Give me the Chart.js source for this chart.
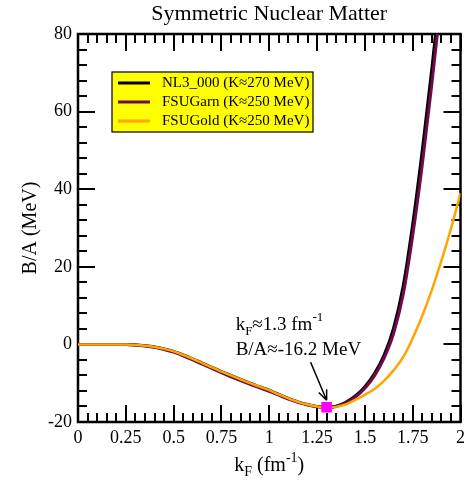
<!DOCTYPE html>
<html>
<head>
<meta charset="utf-8">
<script src="https://cdn.jsdelivr.net/npm/chart.js@4.4.0/dist/chart.umd.min.js"></script>
<style>
html, body { margin: 0; padding: 0; background: #fff; }
</style>
</head>
<body>
<canvas id="eosChart" width="470" height="481"></canvas>
<script>
// k_F grid (fm^-1)
var kF = [0, 0.05, 0.1, 0.15, 0.2, 0.25, 0.3, 0.35, 0.4, 0.45, 0.5, 0.55, 0.6, 0.65, 0.7, 0.75, 0.8, 0.85, 0.9, 0.95,
          1.0, 1.05, 1.1, 1.15, 1.2, 1.25, 1.3, 1.35, 1.4, 1.45, 1.5, 1.55, 1.6, 1.65, 1.7, 1.75, 1.8, 1.85, 1.9, 1.95, 2.0];

// B/A (MeV)
var nl3 = [0, 0, 0, 0, 0, -0.05, -0.15, -0.35, -0.65, -1.15, -1.8, -2.7, -3.7, -4.8, -5.9, -7.0, -8.0, -9.0, -10.0, -10.9,
           -11.8, -12.9, -13.9, -14.8, -15.5, -16.0, -16.2, -15.9, -14.9, -13.3, -10.9, -7.5, -2.8, 4.2, 15.0, 31.0, 50.0, 71.0, 94.0];
var fsuGarn = [0, 0, 0, 0, 0, -0.05, -0.17, -0.4, -0.75, -1.3, -2.0, -2.95, -4.0, -5.1, -6.2, -7.3, -8.35, -9.35, -10.3, -11.2,
               -12.1, -13.1, -14.1, -14.95, -15.6, -16.05, -16.25, -16.0, -15.1, -13.6, -11.3, -8.1, -3.6, 2.8, 12.8, 28.0, 46.2, 67.0, 89.5];
var fsuGold = [0, 0, 0, 0, 0, -0.05, -0.15, -0.35, -0.65, -1.15, -1.8, -2.7, -3.7, -4.8, -5.9, -7.0, -8.0, -9.0, -10.0, -10.9,
               -11.8, -12.9, -13.9, -14.8, -15.5, -16.0, -16.25, -16.1, -15.5, -14.3, -13.0, -11.5, -9.4, -6.7, -3.3, 1.6, 7.4, 14.0, 21.5, 29.8, 39.0];

var seriesLabels = ['NL3_000 (K\u2248270 MeV)', 'FSUGarn (K\u2248250 MeV)', 'FSUGold (K\u2248250 MeV)'];
var seriesColors = ['#000000', '#6e0b4a', '#ffa500'];

// saturation point
var satKF = [1.3];
var satBA = [-16.2];

var xTickValues = [0, 0.25, 0.5, 0.75, 1, 1.25, 1.5, 1.75, 2];
var xTickLabels = ['0', '0.25', '0.5', '0.75', '1', '1.25', '1.5', '1.75', '2'];
var yTickValues = [-20, 0, 20, 40, 60, 80];
var yTickLabels = ['-20', '0', '20', '40', '60', '80'];

var SERIF = '"Liberation Serif", "Times New Roman", serif';

function pairs(ys) {
    return ys.map(function (v, i) { return { x: kF[i], y: v }; });
}

// frame + inward ticks go under the curves, the rest on top
var decor = {
    id: 'decor',
    beforeDatasetsDraw: function (chart) {
        var ctx = chart.ctx;
        var xs = chart.scales.x, ys = chart.scales.y;
        var a = chart.chartArea;
        ctx.save();
        ctx.strokeStyle = '#000';
        ctx.lineWidth = 2;
        ctx.beginPath();
        for (var i = 0; i <= 40; i++) {
            var px = Math.round(xs.getPixelForValue(i * 0.05));
            var len = (i % 5 === 0) ? 17 : 9;
            ctx.moveTo(px, a.bottom); ctx.lineTo(px, a.bottom - len);
            ctx.moveTo(px, a.top); ctx.lineTo(px, a.top + len);
        }
        for (var j = 0; j <= 25; j++) {
            var py = Math.round(ys.getPixelForValue(-20 + j * 4));
            var l2 = (j % 5 === 0) ? 17 : 9;
            ctx.moveTo(a.left, py); ctx.lineTo(a.left + l2, py);
            ctx.moveTo(a.right, py); ctx.lineTo(a.right - l2, py);
        }
        ctx.stroke();
        ctx.lineWidth = 2.5;
        ctx.strokeRect(a.left, a.top, a.right - a.left, a.bottom - a.top);
        ctx.restore();
    },
    afterDraw: function (chart) {
        var ctx = chart.ctx;
        var xs = chart.scales.x, ys = chart.scales.y;
        var a = chart.chartArea;
        ctx.save();

        // legend
        var bx = a.left + 34, by = a.top + 38, bw = 201, bh = 60;
        ctx.fillStyle = '#ffff00';
        ctx.fillRect(bx, by, bw, bh);
        ctx.strokeStyle = '#000';
        ctx.lineWidth = 1.2;
        ctx.strokeRect(bx, by, bw, bh);
        ctx.font = '15px ' + SERIF;
        ctx.textBaseline = 'middle';
        ctx.textAlign = 'left';
        for (var k = 0; k < 3; k++) {
            var ry = by + 11 + k * 19;
            ctx.strokeStyle = seriesColors[k];
            ctx.lineWidth = 3;
            ctx.beginPath();
            ctx.moveTo(bx + 6, ry); ctx.lineTo(bx + 38, ry);
            ctx.stroke();
            ctx.fillStyle = '#000';
            ctx.fillText(seriesLabels[k], bx + 50, ry);
        }

        // annotation near the minimum
        var mx = xs.getPixelForValue(satKF[0]), my = ys.getPixelForValue(satBA[0]);
        ctx.fillStyle = '#000';
        ctx.textBaseline = 'alphabetic';
        var tx = mx - 91, b1 = my - 77, b2 = my - 52;
        ctx.font = '19px ' + SERIF;
        ctx.fillText('k', tx, b1);
        tx += ctx.measureText('k').width;
        ctx.font = '13px ' + SERIF;
        ctx.fillText('F', tx, b1 + 5);
        tx += ctx.measureText('F').width;
        ctx.font = '19px ' + SERIF;
        ctx.fillText('\u22481.3 fm', tx, b1);
        tx += ctx.measureText('\u22481.3 fm').width;
        ctx.font = '13px ' + SERIF;
        ctx.fillText('-1', tx, b1 - 9);
        ctx.font = '19px ' + SERIF;
        ctx.fillText('B/A\u2248-16.2 MeV', mx - 91, b2);

        // arrow
        var x0 = mx - 16, y0 = my - 45, x1 = mx, y1 = my - 7;
        var ang = Math.atan2(y1 - y0, x1 - x0);
        ctx.strokeStyle = '#000';
        ctx.lineWidth = 1.5;
        ctx.beginPath();
        ctx.moveTo(x0, y0); ctx.lineTo(x1, y1);
        ctx.moveTo(x1, y1); ctx.lineTo(x1 - 11 * Math.cos(ang - 0.4), y1 - 11 * Math.sin(ang - 0.4));
        ctx.moveTo(x1, y1); ctx.lineTo(x1 - 11 * Math.cos(ang + 0.4), y1 - 11 * Math.sin(ang + 0.4));
        ctx.stroke();

        // chart title
        ctx.font = '22px ' + SERIF;
        ctx.textAlign = 'center';
        ctx.fillText('Symmetric Nuclear Matter', (a.left + a.right) / 2, 19.5);

        // x axis title with sub/superscript
        var parts = [['k', 20, 0], ['F', 14, 5], [' (fm', 20, 0], ['-1', 14, -9], [')', 20, 0]];
        var total = 0;
        parts.forEach(function (p) { ctx.font = p[1] + 'px ' + SERIF; p.push(ctx.measureText(p[0]).width); total += p[3]; });
        ctx.textAlign = 'left';
        var cx = (a.left + a.right) / 2 - total / 2;
        parts.forEach(function (p) {
            ctx.font = p[1] + 'px ' + SERIF;
            ctx.fillText(p[0], cx, 471 + p[2]);
            cx += p[3];
        });
        ctx.restore();
    }
};

var ctx = document.getElementById('eosChart').getContext('2d');

var myChart = new Chart(ctx, {
    type: 'line',
    data: {
        datasets: [{
            label: seriesLabels[0],
            data: pairs(nl3),
            borderColor: seriesColors[0],
            borderWidth: 3,
            order: 3
        }, {
            label: seriesLabels[1],
            data: pairs(fsuGarn),
            borderColor: seriesColors[1],
            borderWidth: 3,
            order: 2
        }, {
            label: seriesLabels[2],
            data: pairs(fsuGold),
            borderColor: seriesColors[2],
            borderWidth: 2.5,
            order: 1
        }, {
            label: 'saturation',
            data: [{ x: satKF[0], y: satBA[0] }],
            showLine: false,
            pointStyle: 'rect',
            pointRadius: 7.5,
            backgroundColor: '#ff00ff',
            borderColor: '#ff00ff',
            borderWidth: 0,
            order: 0
        }]
    },
    options: {
        responsive: false,
        animation: false,
        events: [],
        layout: { padding: { top: 34, right: 8, left: 0, bottom: 0 } },
        elements: {
            line: { cubicInterpolationMode: 'monotone', fill: false },
            point: { radius: 0 }
        },
        scales: {
            x: {
                type: 'linear',
                min: 0,
                max: 2,
                afterBuildTicks: function (scale) {
                    scale.ticks = xTickValues.map(function (v) { return { value: v }; });
                },
                afterFit: function (scale) { scale.height = 59; },
                grid: { display: false, drawTicks: false },
                border: { display: false },
                ticks: {
                    autoSkip: false,
                    maxRotation: 0,
                    padding: 5,
                    color: '#000',
                    font: { family: SERIF, size: 18 },
                    callback: function (v) { return xTickLabels[xTickValues.indexOf(v)]; }
                }
            },
            y: {
                min: -20,
                max: 80,
                afterBuildTicks: function (scale) {
                    scale.ticks = yTickValues.map(function (v) { return { value: v }; });
                },
                afterFit: function (scale) { scale.width = 78; },
                grid: { display: false, drawTicks: false },
                border: { display: false },
                title: {
                    display: true,
                    text: 'B/A (MeV)',
                    color: '#000',
                    font: { family: SERIF, size: 20 },
                    padding: { top: 19, bottom: 0 }
                },
                ticks: {
                    autoSkip: false,
                    padding: 6,
                    color: '#000',
                    font: { family: SERIF, size: 18 },
                    callback: function (v) { return yTickLabels[yTickValues.indexOf(v)]; }
                }
            }
        },
        plugins: {
            legend: { display: false },
            title: { display: false },
            tooltip: { enabled: false }
        }
    },
    plugins: [decor]
});
</script>
</body>
</html>
